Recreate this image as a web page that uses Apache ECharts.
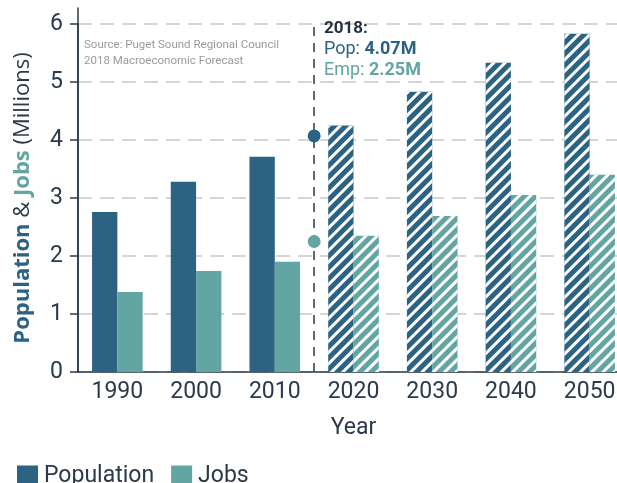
<!DOCTYPE html>
<html>
<head>
<meta charset="utf-8">
<script src="https://cdn.jsdelivr.net/npm/echarts@6/dist/echarts.min.js"></script>
<style>
html,body{margin:0;padding:0;background:#fff;}
#chart{width:617px;height:483px;}
</style>
</head>
<body>
<div id="chart"></div>
<script>
// ---- data ----
const years = ['1990', '2000', '2010', '2020', '2030', '2040', '2050'];
const population = [2.76, 3.28, 3.71, 4.25, 4.83, 5.33, 5.83];
const jobs = [1.38, 1.74, 1.90, 2.35, 2.69, 3.05, 3.40];
const projected = [false, false, false, true, true, true, true];
const markerLabel = '2018';
const markerPos = 2.5;      // between 2010 and 2020 on the category axis
const pop2018 = 4.07;
const emp2018 = 2.25;
const yMin = 0, yMax = 6, yInterval = 1;
const sourceLines = ['Source: Puget Sound Regional Council', '2018 Macroeconomic Forecast'];

// ---- style ----
const POP = '#2c6282';
const JOB = '#62a5a2';
const DARK = '#2a3a4a';
const FONT = 'Roboto';

const hatch = {
  symbol: 'rect',
  symbolSize: 1,
  color: '#ffffff',
  dashArrayX: [1, 0],
  dashArrayY: [2.8, 4.2],
  rotation: -Math.PI / 4
};

function buildData(values, color) {
  return values.map((v, i) => projected[i]
    ? { value: v, itemStyle: { color: color, decal: hatch } }
    : { value: v });
}

const chart = echarts.init(document.getElementById('chart'), null, { renderer: 'canvas' });

const option = {
  backgroundColor: '#ffffff',
  animation: false,
  textStyle: { fontFamily: FONT },
  grid: [
    { left: 78, width: 551, top: 24, bottom: 111, containLabel: false, outerBoundsMode: 'none' },
    { left: 78, width: 10, top: 8, bottom: 111, containLabel: false, outerBoundsMode: 'none' }
  ],
  legend: {
    data: ['Population', 'Jobs'],
    left: 12,
    top: 459,
    itemWidth: 21,
    itemHeight: 21,
    itemGap: 17,
    icon: 'rect',
    textStyle: { fontFamily: FONT, fontSize: 23, lineHeight: 24, color: DARK, padding: [0, 0, 0, 1] }
  },
  xAxis: [
    {
      type: 'category',
      gridIndex: 0,
      data: years,
      name: 'Year',
      nameLocation: 'middle',
      nameGap: 45,
      nameTextStyle: { fontFamily: FONT, fontSize: 23, color: DARK },
      axisLine: { onZero: false, lineStyle: { color: DARK, width: 1.5 } },
      axisTick: { alignWithLabel: true, length: 6, lineStyle: { color: DARK, width: 1.5 } },
      axisLabel: { fontFamily: FONT, fontSize: 23, color: DARK, margin: 9 },
      splitLine: { show: false }
    },
    {
      type: 'value',
      gridIndex: 0,
      min: -0.5,
      max: years.length - 0.5,
      show: false
    },
    {
      type: 'value',
      gridIndex: 1,
      show: false
    }
  ],
  yAxis: [
    {
      type: 'value',
      gridIndex: 0,
      min: yMin,
      max: yMax,
      interval: yInterval,
      name: '{p|Population}{a| & }{j|Jobs}{a| (Millions)}',
      nameLocation: 'middle',
      nameRotate: 90,
      nameGap: 44,
      nameTextStyle: {
        rich: {
          p: { fontFamily: 'Open Sans', fontWeight: 'bold', fontSize: 22, color: POP },
          j: { fontFamily: 'Open Sans', fontWeight: 'bold', fontSize: 22, color: JOB },
          a: { fontFamily: 'Open Sans', fontSize: 22, color: DARK }
        }
      },
      axisLine: { show: true, onZero: false, lineStyle: { color: DARK, width: 1.5 } },
      axisTick: { show: true, length: 8, lineStyle: { color: DARK, width: 1.5 } },
      axisLabel: { fontFamily: FONT, fontSize: 23, color: DARK, margin: 15 },
      splitLine: { show: true, lineStyle: { color: '#c8c8c8', width: 1.5, type: [14, 8] } }
    },
    {
      type: 'value',
      gridIndex: 1,
      min: 0,
      max: 1,
      axisLine: { show: true, onZero: false, lineStyle: { color: DARK, width: 1.5 } },
      axisTick: { show: false },
      axisLabel: { show: false },
      splitLine: { show: false }
    }
  ],
  series: [
    {
      name: 'Population',
      type: 'bar',
      xAxisIndex: 0,
      yAxisIndex: 0,
      barWidth: 25.3,
      barGap: '0%',
      itemStyle: { color: POP },
      data: buildData(population, POP)
    },
    {
      name: 'Jobs',
      type: 'bar',
      xAxisIndex: 0,
      yAxisIndex: 0,
      barWidth: 25.3,
      barGap: '0%',
      itemStyle: { color: JOB },
      data: buildData(jobs, JOB)
    },
    {
      name: 'divider',
      type: 'scatter',
      xAxisIndex: 1,
      yAxisIndex: 0,
      z: 2,
      data: [],
      markLine: {
        silent: true,
        symbol: 'none',
        label: { show: false },
        lineStyle: { color: DARK, width: 1.5, type: [9, 7], opacity: 1 },
        data: [{ xAxis: markerPos }]
      }
    },
    {
      name: 'marker',
      type: 'scatter',
      xAxisIndex: 1,
      yAxisIndex: 0,
      symbolSize: 13,
      z: 6,
      itemStyle: { opacity: 1 },
      data: [
        { value: [markerPos, pop2018], itemStyle: { color: POP, opacity: 1 } },
        { value: [markerPos, emp2018], itemStyle: { color: JOB, opacity: 1 } }
      ]
    }
  ],
  graphic: [
    {
      type: 'text',
      left: 324,
      top: 20,
      z: 10,
      style: {
        text: '{y|' + markerLabel + ':}\n{pl|Pop: }{pv|' + pop2018.toFixed(2) + 'M}\n{el|Emp: }{ev|' + emp2018.toFixed(2) + 'M}',
        rich: {
          y: { fontFamily: FONT, fontWeight: 'bold', fontSize: 17, fill: '#22303f', lineHeight: 21 },
          pl: { fontFamily: FONT, fontSize: 18, fill: POP, lineHeight: 21 },
          pv: { fontFamily: FONT, fontWeight: 'bold', fontSize: 18, fill: POP, lineHeight: 21 },
          el: { fontFamily: FONT, fontSize: 18, fill: JOB, lineHeight: 21 },
          ev: { fontFamily: FONT, fontWeight: 'bold', fontSize: 18, fill: JOB, lineHeight: 21 }
        }
      }
    },
    {
      type: 'text',
      left: 84,
      top: 37,
      z: 10,
      style: {
        text: sourceLines.join('\n'),
        fontFamily: FONT,
        fontSize: 11.5,
        lineHeight: 16,
        fill: '#9a9a9a'
      }
    }
  ]
};

chart.setOption(option);
</script>
</body>
</html>
